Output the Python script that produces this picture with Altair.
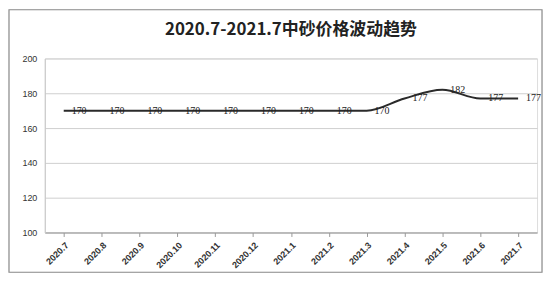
import altair as alt
import pandas as pd

months = ["2020.7", "2020.8", "2020.9", "2020.10", "2020.11", "2020.12", "2021.1",
          "2021.2", "2021.3", "2021.4", "2021.5", "2021.6", "2021.7"]
prices = [170, 170, 170, 170, 170, 170, 170, 170, 170, 177, 182, 177, 177]
y_ticks = [100, 120, 140, 160, 180, 200]

df = pd.DataFrame({"month": months, "price": prices})

x = alt.X("month:N", sort=months, title=None,
          scale=alt.Scale(paddingInner=0, paddingOuter=0),
          axis=alt.Axis(labelAngle=-45, labelFontSize=9, labelColor="#333",
                        labelFont="Liberation Sans", labelFontWeight="bold",
                        domainColor="#999", tickColor="#999", tickSize=4,
                        bandPosition=0, grid=False, labelPadding=4,
                        labelOverlap=False))
y = alt.Y("price:Q", title=None,
          scale=alt.Scale(domain=[100, 200], nice=False, zero=False),
          axis=alt.Axis(values=y_ticks, labelFontSize=9, labelOverlap=False,
                        labelColor="#333", labelFont="Liberation Sans",
                        gridColor="#cfcfcf", domainColor="#c8c8c8", ticks=False,
                        labelPadding=8))

frame = alt.Chart(alt.Data(values=[{}])).mark_rect(
    fillOpacity=0, stroke="#888", strokeWidth=1.2
).encode(x=alt.value(-36), x2=alt.value(500), y=alt.value(-49), y2=alt.value(215))

line = alt.Chart(df).mark_line(color="#2a2a2a", strokeWidth=2, interpolate="monotone").encode(
    x=x, y=y)

labels = alt.Chart(df).mark_text(align="left", dx=8, dy=0, fontSize=10, fill="#222",
                                 font="Liberation Serif").encode(
    x=x, y=y, text="price:Q")

chart = alt.layer(frame, line, labels).properties(
    width=495, height=175,
    title=alt.TitleParams("2020.7-2021.7中砂价格波动趋势", fontSize=17,
                          font="Noto Sans CJK SC", fontWeight="bold", color="#222",
                          anchor="middle", offset=-30),
    autosize=alt.AutoSizeParams(type="none"),
    padding={"left": 37, "top": 50, "right": 8, "bottom": 41},
).configure_view(stroke=None).configure(background="white")

chart.save("out.html", embed_options={"renderer": "svg", "actions": False})
